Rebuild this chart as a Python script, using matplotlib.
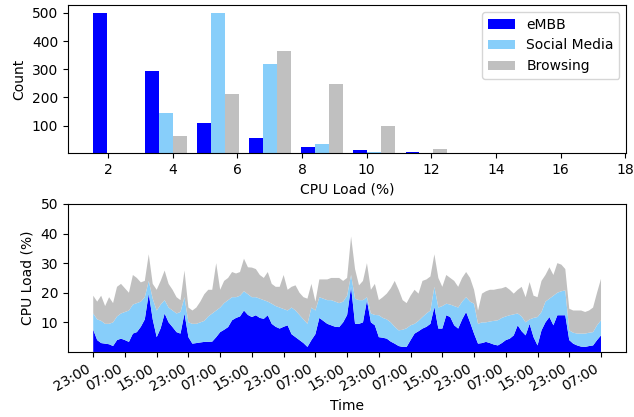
import numpy as np
import pandas as pd
import matplotlib
matplotlib.use('Agg')
from matplotlib import pyplot as plt
import matplotlib.dates as mdates

# histogram of CPU load per slice type (counts per bin)
bin_edges = np.linspace(1.38, 17.48, 11)
embb_counts = [500, 295, 110, 55, 23, 12, 7, 0, 0, 0]
social_counts = [0, 145, 500, 320, 35, 5, 2, 0, 0, 0]
browsing_counts = [0, 65, 212, 365, 248, 100, 18, 0, 0, 0]

labels = ['eMBB', 'Social Media', 'Browsing']
colors = ['blue', 'lightskyblue', 'silver']

# hourly CPU load (%) time series, stacked
start = '2021-01-01 23:00'
embb_load = [7.5, 4, 3, 2.8, 2.6, 2, 4, 4.5, 4, 3.4,
             6.2, 6.7, 8.5, 11, 19.7, 11, 5, 8, 13, 10,
             8.4, 6.7, 6.2, 13, 5, 2.8, 3, 3.2, 3.4, 3.4,
             3.5, 5, 6.7, 7.5, 8.4, 10.7, 11.5, 12, 14, 12.5,
             11.8, 12.4, 11.5, 11.2, 12.4, 9.5, 8.5, 7.9, 8.5, 9,
             6, 5, 4, 3, 1.7, 4, 6, 11.5, 10.5, 9.5,
             9, 8.5, 8.4, 10, 12.5, 22, 9.5, 9.5, 10, 17.4,
             10, 9, 5, 4.8, 4.5, 3.5, 2.8, 2, 1.7, 1.7,
             4, 6.2, 7, 7.9, 8.5, 9.5, 15.2, 7.9, 7.9, 12.4,
             11.8, 9, 7.9, 11, 13.5, 10, 6.2, 2.8, 3, 3.4,
             3, 2.5, 2.2, 3, 4, 4.5, 5.6, 9, 7, 5.6,
             9.5, 5, 2.2, 7.3, 10, 11.8, 9, 12.4, 12.4, 12.4,
             4, 2.8, 2.2, 1.8, 1.7, 2, 2.2, 4, 5.6]
social_load = [5.5, 7, 7.5, 6.7, 6.9, 8, 8, 8.5, 9.5, 10.6,
               9.8, 9.8, 8.5, 7.5, 4.3, 7, 9, 8, 4.5, 5,
               5.6, 6.3, 7.3, 5.5, 5, 6.7, 6.5, 6.8, 7.1, 8.6,
               9.5, 9, 8.3, 9, 9.1, 7.8, 7, 7, 6.5, 7,
               6.7, 6.1, 6.5, 6.3, 4.6, 6.8, 7, 7.1, 6, 5,
               9, 9, 8.5, 8, 7.8, 11, 8, 7, 7.5, 8,
               8.5, 8.5, 8.1, 7, 6.5, 4, 8.5, 8, 7.5, 1.1,
               3, 3.5, 7.4, 6.7, 6.5, 6.5, 5.7, 5.3, 5.8, 6.3,
               5, 3.3, 3.5, 3.9, 4.5, 4.5, 6.8, 7.1, 7.6, 3.9,
               4.2, 6.5, 7.1, 6, 5, 7, 10.1, 6.7, 7, 6.6,
               7.3, 8, 8.5, 8.5, 8, 7.9, 7.1, 4, 5, 4.4,
               1.5, 6.5, 9.6, 6.2, 7, 6.2, 10, 7.6, 8.1, 8.4,
               3.3, 3.7, 4, 4.4, 4.5, 4.5, 4.5, 5, 5.1]
browsing_load = [6, 6, 8.5, 6, 9, 6.5, 10, 10, 8, 6,
                 10, 8.5, 6.5, 5.5, 9, 5, 7, 8, 10, 8,
                 7, 5.5, 4, 9, 5, 4.5, 5.5, 7, 9, 9,
                 8, 16, 6, 7.5, 7.5, 8.5, 8, 8, 11, 9.1,
                 10, 9.5, 8, 7.5, 10, 6.7, 6.5, 7, 11.5, 7,
                 7, 8.5, 7.5, 7.5, 8.5, 8, 3, 6, 6.5, 7,
                 7.5, 8, 8.5, 7, 6, 13, 10, 5, 6.5, 11.5,
                 8, 10.5, 5.1, 7, 8.7, 11.5, 15.5, 13.7, 10, 8.5,
                 10, 11.5, 9.2, 12.2, 11.5, 11.5, 11, 10, 6.5, 9.7,
                 9, 8.5, 7, 8, 8.5, 8, 4.7, 4.5, 9.7, 10.5,
                 10.7, 10.5, 10.6, 10, 10, 8.6, 7, 8, 10, 8.5,
                 12.6, 7.5, 6.7, 10.5, 9, 10.6, 7, 10, 9, 7.2,
                 7.3, 7.5, 7.8, 7.8, 7.3, 7.5, 8.3, 11, 14]

times = pd.date_range(start, periods=len(embb_load), freq='h')
centers = (bin_edges[:-1] + bin_edges[1:]) / 2

plt.rcParams['font.size'] = 10
fig, (ax1, ax2) = plt.subplots(2, 1, figsize=(6.34, 4.17), dpi=100)
fig.subplots_adjust(left=0.107, right=0.988, top=0.988, bottom=0.156, hspace=0.344)

ax1.hist([centers, centers, centers], bins=bin_edges,
         weights=[embb_counts, social_counts, browsing_counts],
         color=colors, label=labels)
ax1.set_xlim(0.76, 18.03)
ax1.set_ylim(3, 528)
ax1.set_yticks([100, 200, 300, 400, 500])
ax1.set_xticks([2, 4, 6, 8, 10, 12, 14, 16, 18])
ax1.set_xlabel('CPU Load (%)')
ax1.set_ylabel('Count')
ax1.legend(loc='upper right')

ax2.stackplot(times, embb_load, social_load, browsing_load, colors=colors)
ax2.set_ylim(0, 50)
ax2.set_yticks([10, 20, 30, 40, 50])
ax2.xaxis.set_major_locator(mdates.HourLocator(byhour=[7, 15, 23]))
ax2.xaxis.set_major_formatter(mdates.DateFormatter('%H:%M'))
plt.setp(ax2.get_xticklabels(), rotation=30, ha='right')
ax2.set_xlabel('Time')
ax2.set_ylabel('CPU Load (%)')

plt.savefig('out.png')
